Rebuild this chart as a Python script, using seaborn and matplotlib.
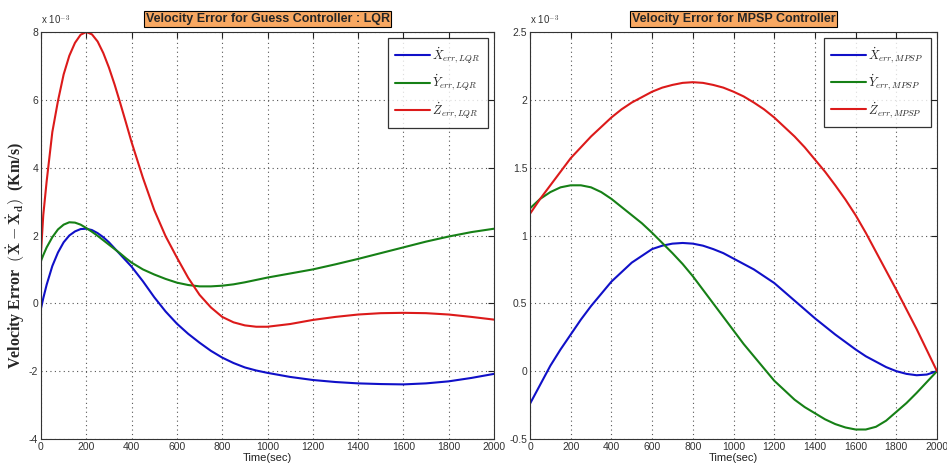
import numpy as np
import pandas as pd
import matplotlib
matplotlib.use("Agg")
import matplotlib.pyplot as plt
from matplotlib.ticker import FuncFormatter, MultipleLocator
import seaborn as sns

# ---------------- data (values in units of 1e-3 km/s) ----------------
t_lqr = [0, 10, 25, 50, 75, 100, 125, 150, 175, 200, 225, 250, 275, 300, 325,
         350, 375, 400,
         450, 500, 550, 600, 650, 700, 750, 800, 850, 900, 950, 1000,
         1100, 1200, 1300, 1400, 1500, 1600, 1700, 1800, 1900, 2000]
x_lqr = [-0.15, 0.15, 0.55, 1.1, 1.5, 1.8, 2.0, 2.12, 2.19, 2.2, 2.16, 2.07,
         1.95, 1.8, 1.62, 1.44, 1.26, 1.08,
         0.65, 0.18, -0.24, -0.6, -0.9, -1.16, -1.4, -1.6, -1.76, -1.89,
         -1.98, -2.05,
         -2.17, -2.26, -2.32, -2.36, -2.38, -2.39, -2.36, -2.3, -2.2, -2.08]
y_lqr = [1.25, 1.42, 1.65, 1.95, 2.18, 2.32, 2.39, 2.38, 2.32, 2.22, 2.11,
         1.99, 1.86, 1.73, 1.6, 1.47, 1.33, 1.2,
         1.0, 0.85, 0.72, 0.61, 0.54, 0.5, 0.5, 0.52, 0.56, 0.62, 0.69, 0.76,
         0.88, 1.0, 1.15, 1.31, 1.48, 1.65, 1.82, 1.97, 2.1, 2.2]
z_lqr = [1.5, 2.6, 3.6, 5.05, 5.97, 6.75, 7.3, 7.68, 7.92, 8.0, 7.93, 7.72,
         7.38, 6.95, 6.45, 5.9, 5.33, 4.75,
         3.7, 2.75, 1.98, 1.35, 0.75, 0.25, -0.12, -0.4, -0.56, -0.65, -0.69,
         -0.69,
         -0.61, -0.49, -0.4, -0.33, -0.29, -0.28, -0.29, -0.33, -0.4, -0.48]

t_mpsp = [0, 50, 100, 150, 200, 250, 300, 350, 400, 450, 500, 550, 600, 650,
          700, 750, 800, 850, 900, 950, 1000, 1050, 1100, 1150, 1200, 1250,
          1300, 1350, 1400, 1450, 1500, 1550, 1600, 1650, 1700, 1750, 1800,
          1850, 1900, 1950, 2000]
x_mpsp = [-0.24, -0.1, 0.04, 0.16, 0.27, 0.38, 0.48, 0.57, 0.66, 0.73, 0.8,
          0.85, 0.9, 0.925, 0.94, 0.945, 0.94, 0.925, 0.9, 0.87, 0.83, 0.79,
          0.75, 0.7, 0.65, 0.585, 0.52, 0.455, 0.39, 0.33, 0.27, 0.215, 0.16,
          0.11, 0.07, 0.03, 0.0, -0.02, -0.03, -0.025, 0.0]
y_mpsp = [1.2, 1.27, 1.32, 1.355, 1.37, 1.37, 1.355, 1.32, 1.27, 1.21, 1.15,
          1.09, 1.02, 0.945, 0.87, 0.79, 0.7, 0.6, 0.5, 0.4, 0.3, 0.2, 0.11,
          0.02, -0.07, -0.14, -0.21, -0.265, -0.31, -0.355, -0.39, -0.415,
          -0.43, -0.43, -0.41, -0.365, -0.3, -0.235, -0.16, -0.08, 0.0]
z_mpsp = [1.16, 1.27, 1.37, 1.47, 1.57, 1.65, 1.73, 1.8, 1.87, 1.93, 1.98,
          2.02, 2.06, 2.09, 2.11, 2.125, 2.13, 2.125, 2.11, 2.09, 2.06, 2.025,
          1.98, 1.93, 1.87, 1.8, 1.73, 1.65, 1.56, 1.47, 1.37, 1.265, 1.15,
          1.02, 0.88, 0.74, 0.6, 0.455, 0.31, 0.155, 0.0]

labels_lqr = [r'$\dot{X}_{err,LQR}$', r'$\dot{Y}_{err,LQR}$', r'$\dot{Z}_{err,LQR}$']
labels_mpsp = [r'$\dot{X}_{err,MPSP}$', r'$\dot{Y}_{err,MPSP}$', r'$\dot{Z}_{err,MPSP}$']
titles = ['Velocity Error for Guess Controller : LQR', 'Velocity Error for MPSP Controller']
x_ticks = list(range(0, 2001, 200))

# ---------------- style ----------------
sns.set_style("white")
plt.rcParams['font.family'] = ['Liberation Sans', 'DejaVu Sans']
plt.rcParams['axes.unicode_minus'] = False
plt.rcParams['mathtext.fontset'] = 'cm'

colors = ['#1010c8', '#168016', '#dc1a1a']

fig = plt.figure(figsize=(9.47, 4.69), dpi=100)
ax1 = fig.add_axes([41/947, 1-439/469, (494-41)/947, (439-32)/469])
ax2 = fig.add_axes([530/947, 1-439/469, (937-530)/947, (439-32)/469])


def long_df(t, series, labels):
    frames = []
    for s, lab in zip(series, labels):
        frames.append(pd.DataFrame({'t': t, 'v': s, 'series': lab}))
    return pd.concat(frames, ignore_index=True)


def style_axes(ax, ylim, ystep, title):
    ax.set_xlim(0, 2000)
    ax.set_ylim(*ylim)
    ax.set_xticks(x_ticks)
    ax.yaxis.set_major_locator(MultipleLocator(ystep))
    ax.yaxis.set_major_formatter(FuncFormatter(lambda v, p: '%g' % round(v, 3)))
    ax.grid(True, linestyle=(0, (1, 3)), color='#555555', linewidth=0.8)
    ax.tick_params(direction='in', top=True, right=True, length=4,
                   labelsize=7.5, colors='#222222', labelcolor='#333333', pad=2)
    for sp in ax.spines.values():
        sp.set_color('#333333')
        sp.set_linewidth(0.8)
    ax.set_xlabel('Time(sec)', fontsize=8, labelpad=1, color='#222222')
    ax.set_title(title, fontsize=9, fontweight='bold', pad=7,
                 bbox=dict(facecolor='#F8A862', edgecolor='black',
                           boxstyle='square,pad=0.15', linewidth=0.8))
    ax.text(0, 1.012, r'x 10$^{-3}$', transform=ax.transAxes, fontsize=7,
            color='#333333', ha='left', va='bottom')
    leg = ax.legend(loc='upper right', fontsize=9, frameon=True, fancybox=False,
                    edgecolor='black', handlelength=2.8, labelspacing=0.6,
                    borderaxespad=0.5, borderpad=0.6, handletextpad=0.15)
    leg.get_frame().set_linewidth(0.9)


df1 = long_df(t_lqr, [x_lqr, y_lqr, z_lqr], labels_lqr)
sns.lineplot(data=df1, x='t', y='v', hue='series', palette=colors,
             hue_order=labels_lqr, ax=ax1, linewidth=1.5, sort=False)
style_axes(ax1, (-4, 8), 2, titles[0])
ax1.set_ylabel(r'Velocity Error  $\mathbf{(\dot{X}-\dot{X}_d)}$  (Km/s)',
               fontsize=11.5, fontweight='bold', family='Liberation Serif')
ax1.yaxis.set_label_coords(-0.03, 0.45)

df2 = long_df(t_mpsp, [x_mpsp, y_mpsp, z_mpsp], labels_mpsp)
sns.lineplot(data=df2, x='t', y='v', hue='series', palette=colors,
             hue_order=labels_mpsp, ax=ax2, linewidth=1.5, sort=False)
style_axes(ax2, (-0.5, 2.5), 0.5, titles[1])
ax2.set_ylabel('')

fig.savefig('out.png', dpi=100)
